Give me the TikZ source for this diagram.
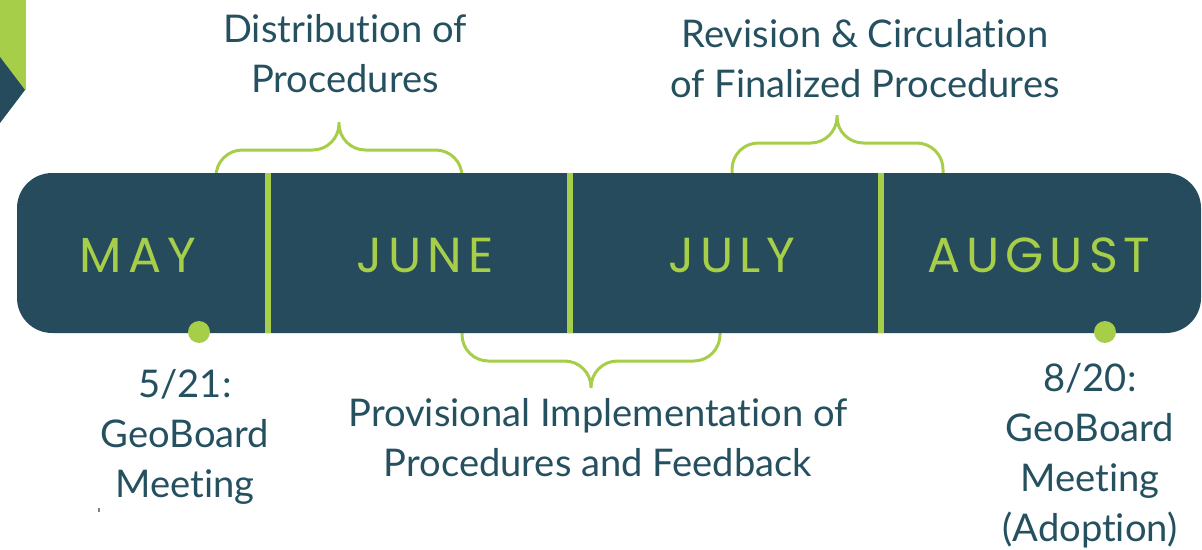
\documentclass[tikz,border=0pt]{standalone}
\usepackage{fontspec}
\setmainfont{Lato}[Ligatures=NoCommon]
\newfontfamily\monthfont[LetterSpace=12]{Poppins}
\definecolor{barteal}{HTML}{254B5C}
\definecolor{leaf}{HTML}{A6CE49}
\definecolor{inkteal}{HTML}{25505F}
\tikzset{
  month/.style={text=leaf, anchor=base, inner sep=0pt,
    font=\monthfont\fontsize{28}{32}\selectfont},
  caption/.style={text=inkteal, anchor=base, inner sep=0pt, align=center,
    font=\fontsize{21.7}{28.3}\selectfont},
  divider/.style={draw=leaf, line width=3.4pt},
  bracket/.style={draw=leaf, line width=1.7pt, rounded corners=15pt},
  dot/.style={circle, fill=leaf, inner sep=0pt, minimum size=12.5pt}
}
\begin{document}
\begin{tikzpicture}[x=0.02cm, y=-0.02cm]
    \useasboundingbox (0, 0) rectangle (1202, 549);

    % corner mark
    \fill[leaf] (0, 0) rectangle (26, 90);
    \fill[barteal] (0, 57) -- (25, 90) -- (0, 123) -- cycle;

    % braces
    \draw[bracket] (216, 176) |- (339, 150) -- (339, 122)
                   (462, 176) |- (339, 150) -- (339, 122);
    \draw[bracket] (732, 176) |- (837, 143) -- (837, 115)
                   (943, 176) |- (837, 143) -- (837, 115);
    \draw[bracket] (462, 330) |- (591, 361) -- (591, 388)
                   (720, 330) |- (591, 361) -- (591, 388);

    % timeline bar
    \fill[barteal, rounded corners=20pt] (17, 173) rectangle (1201, 333);
    \draw[divider] (268, 173) -- (268, 333);
    \draw[divider] (570, 173) -- (570, 333);
    \draw[divider] (881, 173) -- (881, 333);

    \node[month] (may) at (138, 272) {MAY};
    \node[month] (june) at (425, 272) {JUNE};
    \node[month] (july) at (732, 272) {JULY};
    \node[month] (august) at (1039, 272) {AUGUST};

    \node[dot] (mtgA) at (199, 332) {};
    \node[dot] (mtgB) at (1105, 332) {};

    % base = last line
    \node[caption] (distrib) at (345, 92) {Distribution of\\Procedures};
    \node[caption] (revision) at (865, 97) {Revision \& Circulation\\of Finalized Procedures};
    \node[caption] (provisional) at (598, 476) {Provisional Implementation of\\Procedures and Feedback};
    \node[caption] (meetA) at (185, 497) {5/21:\\GeoBoard\\Meeting};
    \node[caption] (meetB) at (1090, 541) {8/20:\\GeoBoard\\Meeting\\(Adoption)};

%    \node at (99, 510) {.};
    \fill[gray] (98, 508) rectangle (100, 512);
  \end{tikzpicture}
\end{document}
